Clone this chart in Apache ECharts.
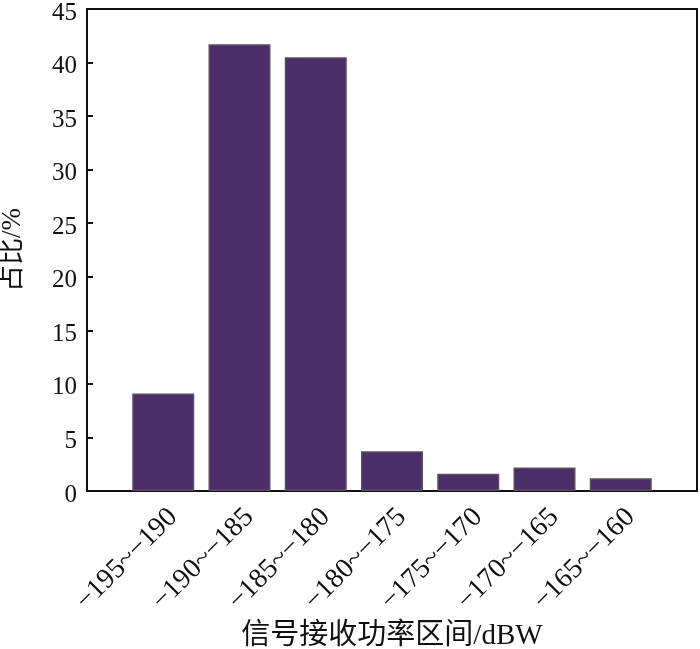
<!DOCTYPE html>
<html>
<head>
<meta charset="utf-8">
<script src="https://cdn.jsdelivr.net/npm/echarts@6/dist/echarts.min.js"></script>
<style>
html,body{margin:0;padding:0;background:#fff;}
#chart{width:700px;height:649px;}
</style>
</head>
<body>
<div id="chart"></div>
<script>
const categories = ['−195~−190','−190~−185','−185~−180','−180~−175','−175~−170','−170~−165','−165~−160'];
const values = [9.1, 41.7, 40.5, 3.7, 1.6, 2.2, 1.2];
const yTicks = [0, 5, 10, 15, 20, 25, 30, 35, 40, 45];
const xName = '信号接收功率区间/dBW';
const yName = '占比/%';

// pad with empty slots so bars sit one step in from each side
const xData = [''].concat(categories, ['']);
const yData = [null].concat(values, [null]);

const serif = 'Times New Roman, Liberation Serif, Tinos, serif';
const cjk = 'Times New Roman, Noto Sans CJK SC, serif';
const chart = echarts.init(document.getElementById('chart'), null, {renderer: 'canvas'});
chart.setOption({
  animation: false,
  backgroundColor: '#fff',
  grid: {left: 87, right: 3, top: 9, bottom: 158, outerBoundsMode: 'none', containLabel: false,
    show: true, borderColor: '#111', borderWidth: 2, backgroundColor: 'transparent'},
  xAxis: {
    type: 'category',
    data: xData,
    boundaryGap: false,
    name: xName,
    nameLocation: 'middle',
    nameGap: 129,
    nameTextStyle: {fontFamily: cjk, fontSize: 29, color: '#111', fontWeight: 'normal'},
    axisLine: {lineStyle: {color: '#111', width: 2}},
    axisTick: {show: false},
    splitLine: {show: false},
    axisLabel: {interval: 0, rotate: 45, margin: 12, verticalAlign: 'top', fontFamily: serif, fontSize: 28, color: '#111'}
  },
  yAxis: {
    type: 'value',
    min: 0, max: 45, interval: 5,
    name: yName,
    nameLocation: 'middle',
    nameGap: 61,
    nameRotate: 90,
    nameTextStyle: {fontFamily: cjk, fontSize: 27, color: '#111'},
    axisLine: {show: true, lineStyle: {color: '#111', width: 2}},
    axisTick: {show: true, inside: true, length: 6, lineStyle: {color: '#111', width: 2}},
    splitLine: {show: false},
    axisLabel: {margin: 10, fontFamily: serif, fontSize: 25, color: '#111',
      rich: {n: {fontFamily: serif, fontSize: 25, color: '#111', padding: [8, 0, 0, 0]}},
      formatter: function (v) { return yTicks.indexOf(v) >= 0 ? '{n|' + v + '}' : ''; }}
  },
  series: [{
    type: 'bar',
    data: yData,
    barWidth: 62,
    itemStyle: {color: '#4b2e69', borderColor: '#5e4c5c', borderWidth: 1.5}
  }]
});
</script>
</body>
</html>
